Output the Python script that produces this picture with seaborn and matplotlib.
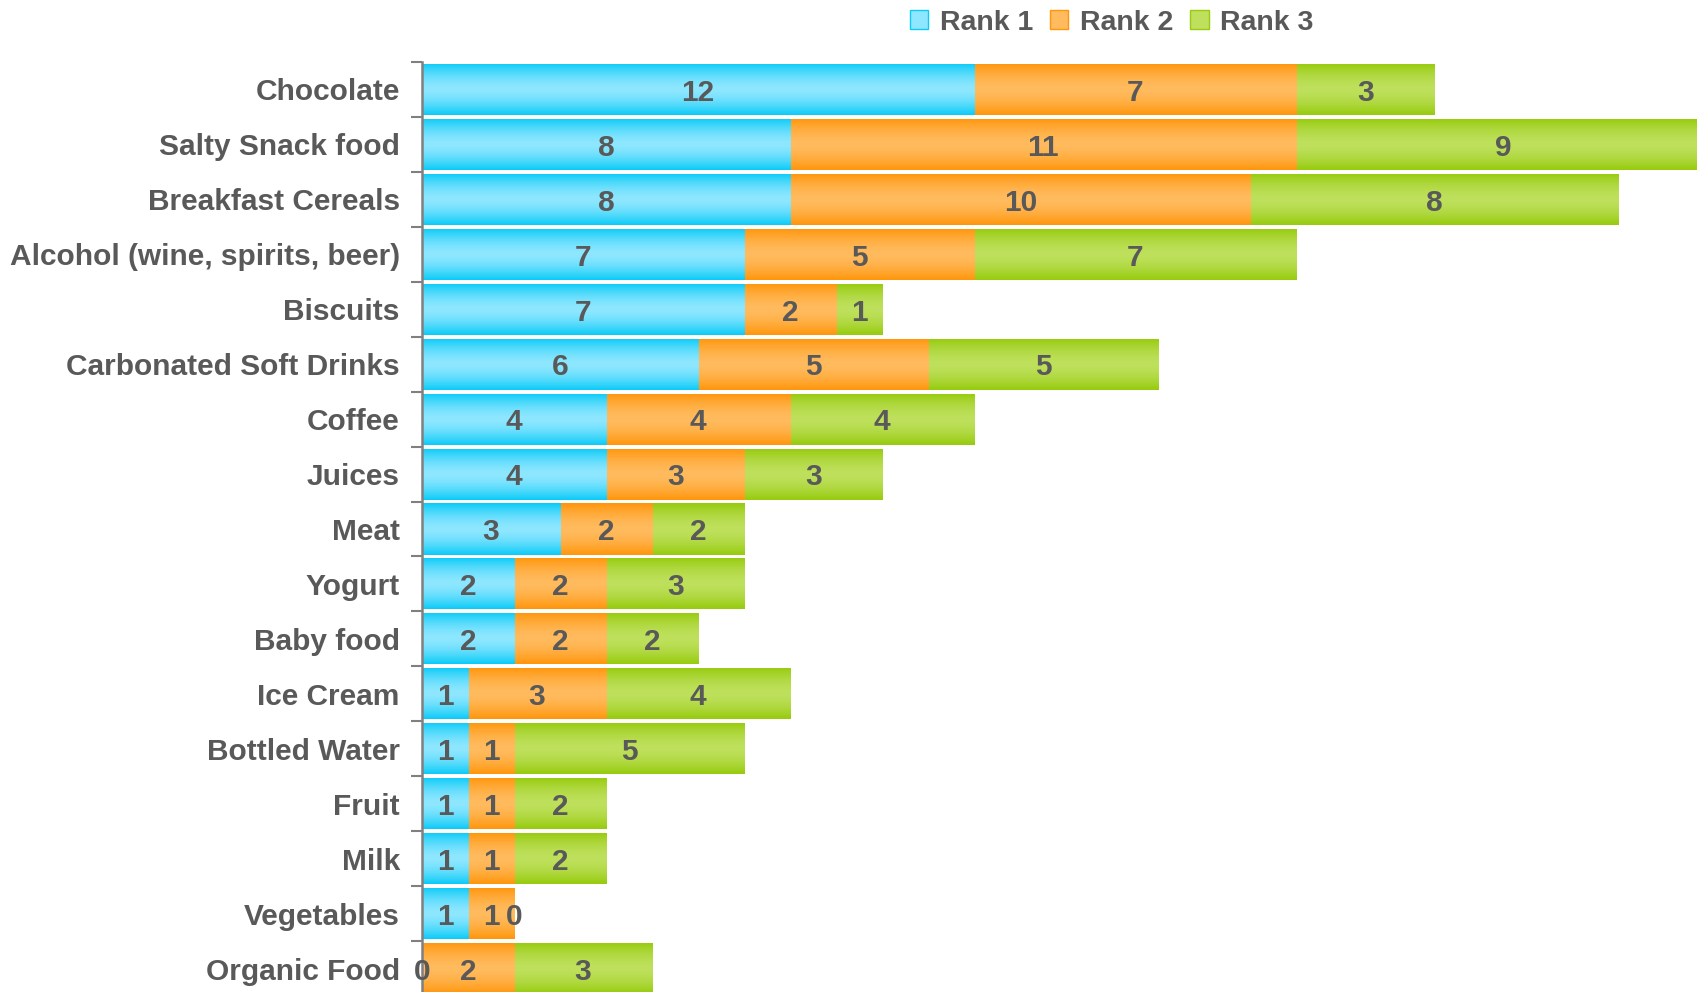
import numpy as np
import pandas as pd
import matplotlib
matplotlib.use("Agg")
import matplotlib.pyplot as plt
import seaborn as sns
from matplotlib.colors import LinearSegmentedColormap
from matplotlib.patches import Patch

categories = ["Chocolate", "Salty Snack food", "Breakfast Cereals",
              "Alcohol (wine, spirits, beer)", "Biscuits", "Carbonated Soft Drinks",
              "Coffee", "Juices", "Meat", "Yogurt", "Baby food", "Ice Cream",
              "Bottled Water", "Fruit", "Milk", "Vegetables", "Organic Food"]
rank1 = [12, 8, 8, 7, 7, 6, 4, 4, 3, 2, 2, 1, 1, 1, 1, 1, 0]
rank2 = [7, 11, 10, 5, 2, 5, 4, 3, 2, 2, 2, 3, 1, 1, 1, 1, 2]
rank3 = [3, 9, 8, 7, 1, 5, 4, 3, 2, 3, 2, 4, 5, 2, 2, 0, 3]
series = ["Rank 1", "Rank 2", "Rank 3"]

# edge colour, centre colour of the vertical gradient
grad = {"Rank 1": ("#0ccbf8", "#8ee7ff"),
        "Rank 2": ("#ff960c", "#ffbb5e"),
        "Rank 3": ("#97cb0e", "#bee05c")}
text_color = "#595959"

df = pd.DataFrame({"cat": categories, "Rank 1": rank1, "Rank 2": rank2, "Rank 3": rank3})
df["c1"] = df["Rank 1"]
df["c2"] = df["c1"] + df["Rank 2"]
df["c3"] = df["c2"] + df["Rank 3"]

plt.rcParams["font.family"] = ["Liberation Sans", "DejaVu Sans"]
plt.rcParams["font.weight"] = "bold"

fig = plt.figure(figsize=(16.97, 9.92), dpi=100)
ax = fig.add_axes([422 / 1697, -4 / 992, 1 - 422 / 1697, (996 - 62) / 992])

# stacked via overlapping cumulative bars, widest first
for col, name in [("c3", "Rank 3"), ("c2", "Rank 2"), ("c1", "Rank 1")]:
    sns.barplot(data=df, x=col, y="cat", orient="h", color=grad[name][0],
                width=0.93, linewidth=0, ax=ax, label=name)

# gradient fill on every bar
names_order = ["Rank 3"] * len(df) + ["Rank 2"] * len(df) + ["Rank 1"] * len(df)
t = np.linspace(0, 1, 64)
prof = 1 - np.abs(2 * t - 1) ** 1.6
for p, name in zip(list(ax.patches), names_order):
    w = p.get_width()
    if w <= 0:
        continue
    cmap = LinearSegmentedColormap.from_list(name, [grad[name][0], grad[name][1]])
    x0, y0 = p.get_x(), p.get_y()
    h = p.get_height()
    im = ax.imshow(prof.reshape(-1, 1), cmap=cmap, vmin=0, vmax=1, aspect="auto",
                   extent=(x0, x0 + w, y0 + h, y0), interpolation="bilinear",
                   zorder=p.get_zorder())
    im.set_clip_path(p)

# data labels
for i, row in df.iterrows():
    starts = [0, row["c1"], row["c2"]]
    for s, name in zip(starts, series):
        v = row[name]
        ax.text(s + v / 2, i + 0.06, str(v), ha="center", va="center", fontsize=21.5,
                fontweight="bold", color=text_color, zorder=10)

ax.set_xlim(0, 27.7)
ax.set_ylim(len(df) - 0.5, -0.5)
ax.set_xlabel("")
ax.set_ylabel("")
ax.set_xticks([])
ax.set_yticks(range(len(df)))
ax.set_yticklabels(categories)
ax.set_yticks(np.arange(-0.5, len(df), 1), minor=True)
ax.tick_params(axis="y", which="major", length=0, pad=16, labelsize=21.5,
               labelcolor=text_color)
ax.tick_params(axis="y", which="minor", length=8, width=1.5, color="#808080")
for lab in ax.get_yticklabels():
    lab.set_fontweight("bold")
for s in ["top", "right", "bottom"]:
    ax.spines[s].set_visible(False)
ax.spines["left"].set_color("#808080")
ax.spines["left"].set_linewidth(1.8)
ax.set_facecolor("white")
if ax.get_legend() is not None:
    ax.get_legend().remove()

handles = [Patch(facecolor=grad[n][1], edgecolor=grad[n][0], linewidth=1) for n in series]
fig.legend(handles, series, loc="upper center", bbox_to_anchor=(0.655, 1.016), ncol=3,
           frameon=False, handlelength=0.65, handleheight=0.65,
           handletextpad=0.4, columnspacing=0.6, labelcolor=text_color,
           prop={"weight": "bold", "size": 20.5})

fig.savefig("out.png", dpi=100)
